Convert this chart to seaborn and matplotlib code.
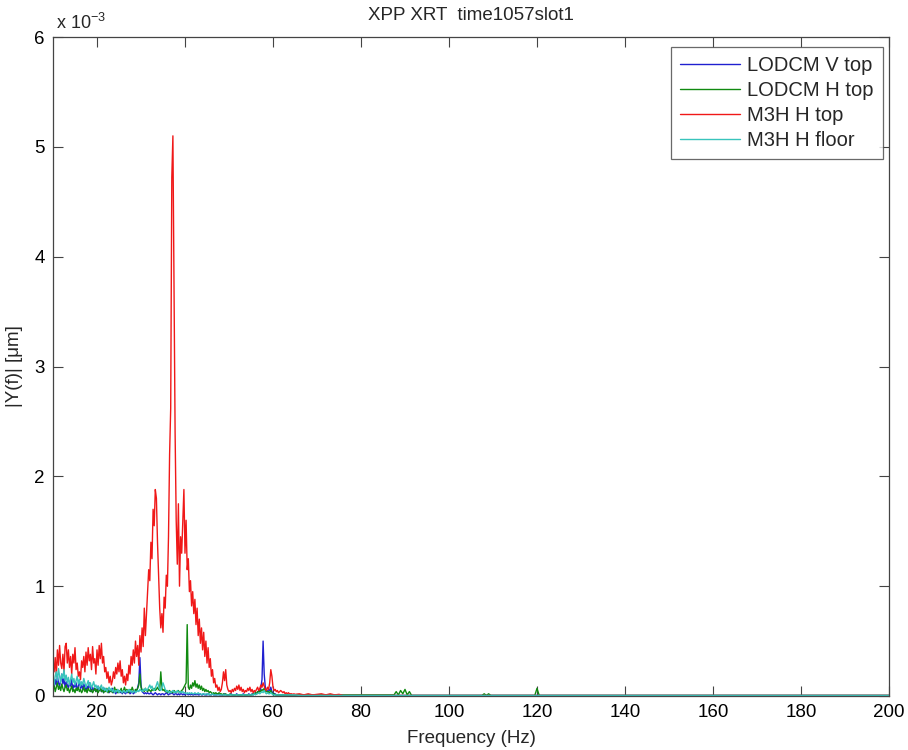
import numpy as np
import pandas as pd
import matplotlib
matplotlib.use("Agg")
import matplotlib.pyplot as plt
import seaborn as sns

# ---------------- data (amplitudes in units of 1e-3 um) ----------------
series_names = ["LODCM V top", "LODCM H top", "M3H H top", "M3H H floor"]
series_colors = ["#2020d0", "#108a10", "#f01818", "#38c4bc"]

# dense spectrum grid 10 .. 65 Hz, 0.25 Hz spacing
freq_dense = np.round(np.arange(10.0, 65.001, 0.25), 2)

red_dense = [
    0.30,0.22,0.35,0.18,0.42,0.28,0.46,0.30,0.25,0.38,0.22,0.45,0.48,0.30,0.42,0.26,0.36,0.20,0.38,0.30,
    0.44,0.24,0.30,0.18,0.22,0.15,0.32,0.26,0.36,0.22,0.40,0.28,0.44,0.32,0.38,0.24,0.45,0.30,0.34,0.20,
    0.42,0.28,0.46,0.34,0.48,0.30,0.36,0.22,0.26,0.16,0.22,0.12,0.18,0.10,0.14,0.22,0.16,0.26,0.20,0.30,
    0.22,0.32,0.18,0.24,0.12,0.18,0.10,0.20,0.14,0.28,0.20,0.36,0.28,0.42,0.30,0.50,0.36,0.46,0.28,0.55,
    0.40,0.62,0.45,0.80,0.55,0.75,0.95,1.15,1.05,1.40,1.25,1.70,1.55,1.88,1.80,1.40,1.10,0.80,0.62,0.75,
    0.58,0.90,0.80,1.10,1.00,1.45,2.20,2.62,4.72,5.10,3.70,2.40,1.60,1.20,1.75,1.00,1.45,1.30,1.60,1.88,
    1.30,1.60,1.15,1.25,0.95,1.05,0.82,0.95,0.75,0.88,0.65,0.80,0.55,0.70,0.48,0.62,0.42,0.58,0.36,0.50,
    0.30,0.44,0.26,0.34,0.18,0.24,0.12,0.16,0.08,0.10,0.05,0.08,0.04,0.06,0.12,0.22,0.14,0.24,0.10,0.06,
    0.04,0.05,0.03,0.06,0.04,0.07,0.05,0.09,0.06,0.10,0.05,0.08,0.04,0.06,0.03,0.05,0.04,0.07,0.05,0.08,
    0.04,0.06,0.03,0.05,0.04,0.06,0.08,0.05,0.07,0.10,0.08,0.12,0.09,0.06,0.05,0.08,0.06,0.12,0.24,0.18,
    0.08,0.05,0.06,0.04,0.05,0.03,0.04,0.05,0.04,0.03,0.04,0.02,0.03,0.02,0.03,0.02,0.02,0.02,0.015,0.02,
    0.015,
]

blue_dense = [
    0.12,0.08,0.15,0.10,0.18,0.12,0.09,0.14,0.20,0.11,0.16,0.08,0.13,0.10,0.07,0.12,0.09,0.15,0.06,0.10,
    0.08,0.12,0.05,0.09,0.14,0.07,0.10,0.06,0.11,0.08,0.05,0.09,0.06,0.12,0.07,0.04,0.08,0.05,0.07,0.04,
    0.06,0.09,0.05,0.08,0.04,0.06,0.03,0.07,0.05,0.04,0.06,0.03,0.05,0.04,0.07,0.03,0.05,0.02,0.04,0.03,
    0.05,0.03,0.04,0.02,0.04,0.03,0.02,0.04,0.03,0.05,0.02,0.03,0.04,0.02,0.03,0.05,0.04,0.08,0.12,0.35,
    0.10,0.04,0.03,0.02,0.03,0.02,0.03,0.02,0.02,0.03,0.02,0.01,0.02,0.03,0.02,0.01,0.02,0.02,0.01,0.02,
    0.02,0.01,0.02,0.03,0.02,0.01,0.02,0.02,0.03,0.02,0.01,0.02,0.02,0.01,0.02,0.01,0.02,0.02,0.01,0.02,
    0.01,0.02,0.02,0.01,0.02,0.01,0.02,0.01,0.01,0.02,0.01,0.02,0.01,0.01,0.02,0.01,0.01,0.02,0.01,0.01,
    0.01,0.02,0.01,0.01,0.01,0.02,0.01,0.01,0.01,0.01,0.02,0.01,0.01,0.01,0.01,0.01,0.02,0.01,0.01,0.01,
    0.01,0.01,0.02,0.01,0.01,0.01,0.01,0.02,0.01,0.01,0.01,0.01,0.01,0.02,0.01,0.01,0.01,0.01,0.02,0.01,
    0.01,0.02,0.01,0.02,0.03,0.02,0.03,0.05,0.04,0.08,0.15,0.50,0.20,0.08,0.05,0.04,0.06,0.05,0.08,0.04,
    0.03,0.02,0.02,0.01,0.01,0.01,0.01,0.01,0.01,0.01,0.01,0.01,0.01,0.01,0.01,0.01,0.01,0.01,0.01,0.01,
    0.01,
]

green_dense = [
    0.05,0.10,0.04,0.08,0.12,0.06,0.09,0.05,0.11,0.07,0.04,0.08,0.10,0.05,0.07,0.03,0.06,0.09,0.04,0.06,
    0.03,0.07,0.05,0.08,0.04,0.06,0.03,0.05,0.08,0.04,0.06,0.03,0.07,0.05,0.04,0.06,0.03,0.05,0.07,0.04,
    0.06,0.03,0.05,0.08,0.04,0.06,0.03,0.05,0.04,0.07,0.03,0.05,0.04,0.06,0.03,0.05,0.08,0.04,0.06,0.03,
    0.05,0.04,0.07,0.03,0.05,0.08,0.04,0.06,0.05,0.03,0.06,0.04,0.08,0.05,0.04,0.06,0.05,0.07,0.10,0.20,
    0.08,0.05,0.06,0.04,0.07,0.05,0.04,0.06,0.05,0.04,0.06,0.05,0.07,0.05,0.06,0.08,0.06,0.05,0.22,0.07,
    0.05,0.06,0.04,0.05,0.03,0.04,0.05,0.03,0.04,0.03,0.05,0.04,0.03,0.04,0.05,0.03,0.04,0.05,0.06,0.08,
    0.10,0.12,0.65,0.08,0.06,0.10,0.07,0.12,0.09,0.14,0.08,0.11,0.07,0.10,0.06,0.09,0.05,0.07,0.04,0.06,
    0.04,0.05,0.03,0.04,0.03,0.02,0.03,0.02,0.03,0.02,0.02,0.03,0.02,0.02,0.01,0.02,0.01,0.02,0.01,0.01,
    0.01,0.02,0.01,0.01,0.01,0.01,0.01,0.01,0.01,0.01,0.01,0.01,0.01,0.01,0.01,0.01,0.01,0.01,0.01,0.01,
    0.01,0.01,0.02,0.02,0.03,0.02,0.04,0.03,0.05,0.04,0.06,0.05,0.07,0.04,0.05,0.03,0.04,0.03,0.05,0.03,
    0.02,0.02,0.01,0.01,0.01,0.01,0.01,0.01,0.01,0.01,0.01,0.01,0.01,0.01,0.01,0.01,0.01,0.01,0.01,0.01,
    0.01,
]

teal_dense = [
    0.15,0.10,0.18,0.22,0.14,0.25,0.18,0.12,0.20,0.16,0.24,0.14,0.19,0.12,0.17,0.10,0.15,0.20,0.12,0.16,
    0.10,0.14,0.18,0.11,0.15,0.09,0.13,0.10,0.16,0.12,0.08,0.11,0.14,0.09,0.12,0.07,0.10,0.13,0.08,0.10,
    0.07,0.09,0.06,0.08,0.10,0.06,0.08,0.05,0.07,0.04,0.06,0.08,0.05,0.07,0.04,0.06,0.03,0.05,0.04,0.06,
    0.03,0.05,0.04,0.03,0.05,0.04,0.03,0.05,0.04,0.06,0.04,0.05,0.03,0.04,0.05,0.03,0.04,0.05,0.04,0.06,
    0.05,0.04,0.06,0.05,0.07,0.05,0.06,0.08,0.10,0.07,0.09,0.06,0.05,0.07,0.10,0.13,0.09,0.06,0.05,0.08,
    0.12,0.09,0.06,0.04,0.05,0.03,0.04,0.03,0.04,0.05,0.03,0.04,0.03,0.05,0.04,0.03,0.04,0.03,0.04,0.03,
    0.03,0.02,0.03,0.02,0.03,0.02,0.03,0.02,0.02,0.03,0.02,0.02,0.03,0.02,0.02,0.01,0.02,0.02,0.01,0.02,
    0.02,0.01,0.02,0.01,0.01,0.02,0.01,0.01,0.01,0.01,0.01,0.01,0.01,0.01,0.01,0.01,0.01,0.01,0.01,0.01,
    0.01,0.01,0.01,0.01,0.01,0.01,0.01,0.01,0.01,0.01,0.01,0.01,0.01,0.01,0.01,0.01,0.01,0.01,0.01,0.01,
    0.01,0.01,0.01,0.02,0.01,0.02,0.02,0.03,0.02,0.03,0.04,0.03,0.05,0.03,0.02,0.03,0.02,0.02,0.03,0.02,
    0.01,0.01,0.01,0.01,0.01,0.01,0.01,0.01,0.01,0.01,0.01,0.01,0.01,0.01,0.01,0.01,0.01,0.01,0.01,0.01,
    0.01,
]

# sparse high-frequency tails (65 .. 200 Hz)
blue_tail_f = [66, 200]
blue_tail_v = [0.005, 0.005]
green_tail_f = [66, 87.5, 88, 88.5, 89, 89.5, 90, 90.5, 91, 91.5,
                107.5, 108, 108.5, 109, 109.5, 119.5, 120, 120.5, 200]
green_tail_v = [0.01, 0.01, 0.04, 0.01, 0.05, 0.02, 0.06, 0.01, 0.04, 0.005,
                0.005, 0.02, 0.005, 0.02, 0.005, 0.005, 0.07, 0.005, 0.005]
red_tail_f = [66, 67, 68, 69, 70, 71, 72, 73, 74, 75, 76, 200]
red_tail_v = [0.02, 0.01, 0.02, 0.01, 0.015, 0.02, 0.01, 0.02, 0.01, 0.015, 0.005, 0.005]
teal_tail_f = [66, 200]
teal_tail_v = [0.005, 0.005]

x_ticks = [20, 40, 60, 80, 100, 120, 140, 160, 180, 200]
y_ticks = [0, 1, 2, 3, 4, 5, 6]

# ---------------- build long table ----------------
frames = []
for name, dense, tf, tv in [
    (series_names[0], blue_dense, blue_tail_f, blue_tail_v),
    (series_names[1], green_dense, green_tail_f, green_tail_v),
    (series_names[2], red_dense, red_tail_f, red_tail_v),
    (series_names[3], teal_dense, teal_tail_f, teal_tail_v),
]:
    f = np.concatenate([freq_dense, tf])
    v = np.concatenate([dense, tv])
    frames.append(pd.DataFrame({"freq": f, "amp": v, "series": name}))
df = pd.concat(frames, ignore_index=True)

# ---------------- plot ----------------
sns.set_style("ticks")
plt.rcParams["font.family"] = ["Liberation Sans", "DejaVu Sans"]
plt.rcParams["mathtext.fontset"] = "custom"
plt.rcParams["mathtext.rm"] = "Liberation Sans"

fig = plt.figure(figsize=(9.08, 7.5), dpi=100)
ax = fig.add_axes([53 / 908, 54 / 750, 836 / 908, 659 / 750])

sns.lineplot(data=df, x="freq", y="amp", hue="series", hue_order=series_names,
             palette=dict(zip(series_names, series_colors)), estimator=None,
             sort=False, linewidth=1.0, ax=ax, legend=False)

ax.set_xlim(10, 200)
ax.set_ylim(0, 6)
ax.set_xticks(x_ticks)
ax.set_yticks(y_ticks)
ax.tick_params(direction="in", length=7, width=0.8, top=True, right=True,
               labelsize=13.5, colors="#444444", labelcolor="black", pad=6)
for s in ax.spines.values():
    s.set_color("#444444")
    s.set_linewidth(0.9)

ax.set_xlabel("Frequency (Hz)", fontsize=13.5, labelpad=6)
ax.set_ylabel("|Y(f)| [μm]", fontsize=13.5, labelpad=8)
ax.set_title("XPP XRT  time1057slot1", fontsize=13.5, pad=12)
ax.text(0.004, 1.006, r"x 10$^{\mathregular{-3}}$", transform=ax.transAxes,
        fontsize=13, ha="left", va="bottom")

handles = [plt.Line2D([], [], color=c, lw=1.0) for c in series_colors]
leg = ax.legend(handles, series_names, loc="upper right",
                bbox_to_anchor=(883 / 908, 1 - 47 / 750),
                bbox_transform=fig.transFigure, borderaxespad=0.0,
                fontsize=14.5, frameon=True, fancybox=False, edgecolor="#444444",
                handlelength=3.0, handletextpad=0.35, borderpad=0.45,
                labelspacing=0.3)
leg.get_frame().set_linewidth(0.9)

fig.savefig("out.png", dpi=100)
